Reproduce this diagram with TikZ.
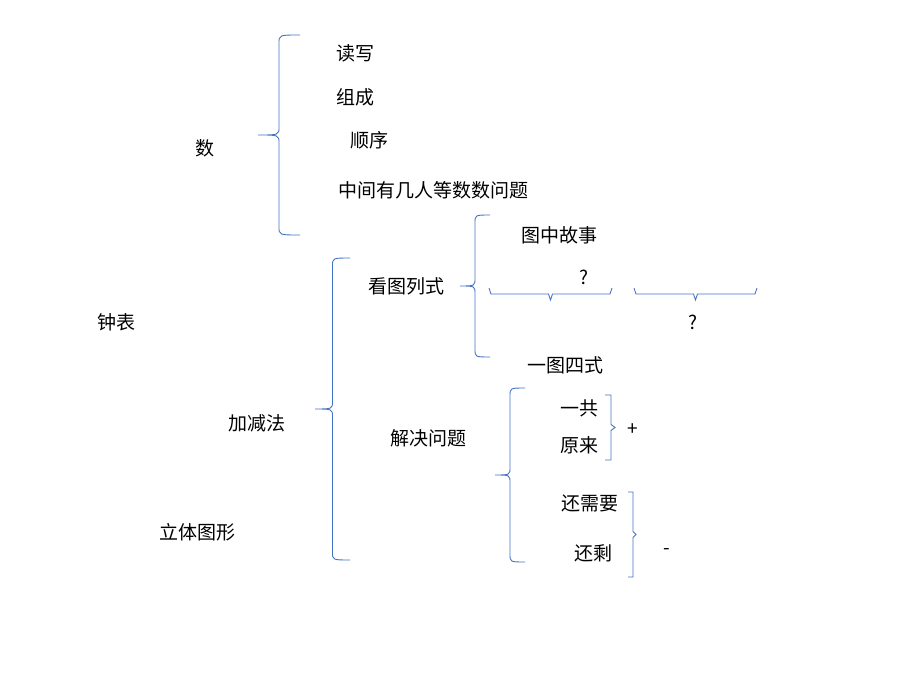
\documentclass[tikz,border=0pt]{standalone}
\usepackage{fontspec}
\newfontfamily\cjk{Noto Sans CJK SC}
\definecolor{bc}{HTML}{4472C4}
\newcommand\mybrL[4]{% tip x, end x, top y, bottom y
 \pgfmathsetmacro\mid{(#3+#4)/2}\pgfmathsetmacro\xm{(#1+#2)/2}
 \draw[brc] (#2,#3) .. controls (\xm,#3) .. (\xm,#3+8) -- (\xm,\mid-8) .. controls (\xm,\mid) .. (#1,\mid)
   .. controls (\xm,\mid) .. (\xm,\mid+8) -- (\xm,#4-8) .. controls (\xm,#4) .. (#2,#4);}
\newcommand\mybrR[4]{% tip x, end x, top y, bottom y
 \pgfmathsetmacro\mid{(#3+#4)/2}\pgfmathsetmacro\xm{(#1+#2)/2+1}
 \draw[brc] (#2,#3) -- (\xm,#3) -- (\xm,\mid-3) -- (#1,\mid) -- (\xm,\mid+3) -- (\xm,#4) -- (#2,#4);}
\newcommand\mybrD[4]{% left x, right x, top y, tip y
 \pgfmathsetmacro\mid{(#1+#2)/2}\pgfmathsetmacro\ym{(#3+#4)/2}
 \draw[brc] (#1,#3) -- (#1+2,\ym) -- (\mid-2,\ym) -- (\mid,#4) -- (\mid+2,\ym) -- (#2-2,\ym) -- (#2,#3);}
\begin{document}
\begin{tikzpicture}[x=1pt,y=-1pt,brc/.style={bc,line width=0.9pt},
 t/.style={font=\cjk\fontsize{19}{22}\selectfont,inner sep=0pt}]
\useasboundingbox (0,0) rectangle (920,690);
\mybrL{258}{300}{35}{235}
\mybrL{315}{350}{258}{560}
\mybrL{460}{490}{215}{357}
\mybrL{495}{525}{388}{562}
\mybrR{615}{605}{395}{460}
\mybrR{636}{628}{492}{577}
\mybrD{489}{612}{288}{300}
\mybrD{634}{757}{288}{300}
\node[t] (a) at (205,148) {数};
\node[t] (b) at (116,322) {钟表};
\node[t] (c) at (257,423) {加减法};
\node[t] (d) at (197,532) {立体图形};
\node[t] (e) at (355,53) {读写};
\node[t] (f) at (355,97) {组成};
\node[t] (g) at (369,140) {顺序};
\node[t] (h) at (433,190) {中间有几人等数数问题};
\node[t] (i) at (406,286) {看图列式};
\node[t] (j) at (559,235) {图中故事};
\node[t] (k) at (584,277) {?};
\node[t] (l) at (693,322) {?};
\node[t] (m) at (565,365) {一图四式};
\node[t] (n) at (428,438) {解决问题};
\node[t] (o) at (579,408) {一共};
\node[t] (p) at (579,445) {原来};
\node[t] (q) at (633,430) {+};
\node[t] (r) at (590,503) {还需要};
\node[t] (s) at (593,553) {还剩};
\node[t] (u) at (667,552) {-};
\end{tikzpicture}
\end{document}
